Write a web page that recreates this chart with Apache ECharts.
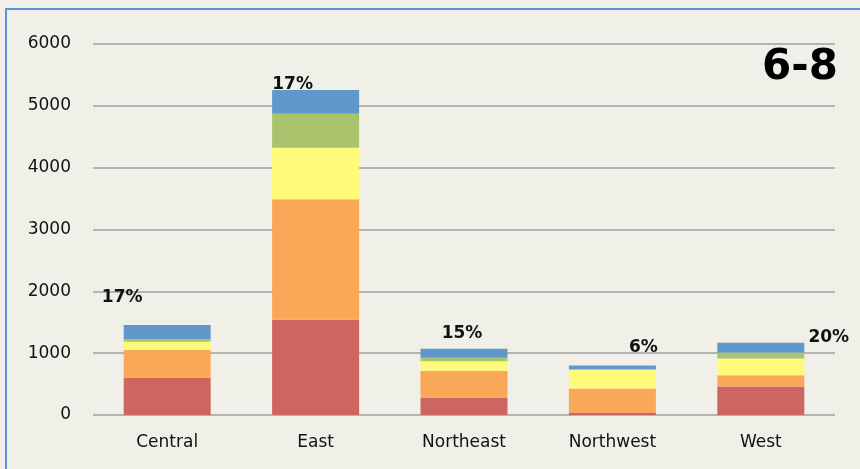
<!DOCTYPE html>
<html>
<head>
<meta charset="utf-8">
<script src="https://cdn.jsdelivr.net/npm/echarts@6/dist/echarts.min.js"></script>
<style>
  html, body { margin: 0; padding: 0; background: #F0EFE8; }
  #chart { width: 860px; height: 469px; }
</style>
</head>
<body>
<div id="chart"></div>
<script>
// Regions on the x axis
const regions = ['Central', 'East', 'Northeast', 'Northwest', 'West'];

// Stacked segments, bottom to top
const segRed    = [603, 1541, 278,  40, 461];
const segOrange = [448, 1947, 437, 388, 183];
const segYellow = [134,  834, 155, 302, 270];
const segGreen  = [ 39,  550,  55,  12,  97];
const segBlue   = [231,  383, 146,  58, 157];

// Share labels shown above each stack
const shareLabels = ['17%', '17%', '15%', '6%', '20%'];

// Value axis ticks
const yTicks = [0, 1000, 2000, 3000, 4000, 5000, 6000];

const FONT = 'DejaVu Sans';

// Per-bar placement of the share label (pixel offsets from the stack top)
const labelOffsets = [[-45, -15], [-23, 7], [-2, -3], [31, -5], [68, 7]];

const chart = echarts.init(document.getElementById('chart'), null, { renderer: 'canvas' });

const segments = [
  { name: 'Segment 1', data: segRed,    color: '#CD6660' },
  { name: 'Segment 2', data: segOrange, color: '#F9A857' },
  { name: 'Segment 3', data: segYellow, color: '#FFFB7A' },
  { name: 'Segment 4', data: segGreen,  color: '#AAC46E' },
  { name: 'Segment 5', data: segBlue,   color: '#6198CC' }
];

const series = segments.map((s, i) => {
  const isTop = i === segments.length - 1;
  return {
    name: s.name,
    type: 'bar',
    stack: 'total',
    barWidth: 87,
    itemStyle: { color: s.color },
    emphasis: { disabled: true },
    data: s.data.map((v, j) => {
      if (!isTop) return v;
      return {
        value: v,
        label: {
          show: true,
          position: 'top',
          distance: 4,
          offset: labelOffsets[j],
          formatter: shareLabels[j],
          fontFamily: FONT,
          fontWeight: 'bold',
          fontSize: 17,
          color: '#111111'
        }
      };
    }),
    z: 2
  };
});

chart.setOption({
  backgroundColor: '#F0EFE8',
  animation: false,
  grid: { left: 93, right: 25, top: 44, bottom: 54, containLabel: false },
  title: {
    text: '6-8',
    right: 17,
    top: 42,
    textStyle: { fontFamily: FONT, fontWeight: 'bold', fontSize: 42, color: '#000000' }
  },
  xAxis: {
    type: 'category',
    data: regions,
    axisLine: { show: false },
    axisTick: { show: false },
    axisLabel: { fontFamily: FONT, fontSize: 17, color: '#111111', margin: 19 }
  },
  yAxis: {
    type: 'value',
    min: yTicks[0],
    max: yTicks[yTicks.length - 1],
    interval: yTicks[1] - yTicks[0],
    axisLine: { show: false },
    axisTick: { show: false },
    axisLabel: {
      fontFamily: FONT, fontSize: 17, color: '#111111', margin: 22,
      formatter: (v) => String(v)
    },
    splitLine: { lineStyle: { color: '#A0A0A0', width: 1.5 } }
  },
  graphic: [{
    type: 'rect',
    shape: { x: 6, y: 9, width: 900, height: 500 },
    style: { fill: 'none', stroke: '#5B95D0', lineWidth: 2 },
    silent: true,
    z: 100
  }],
  series: series
});
</script>
</body>
</html>
